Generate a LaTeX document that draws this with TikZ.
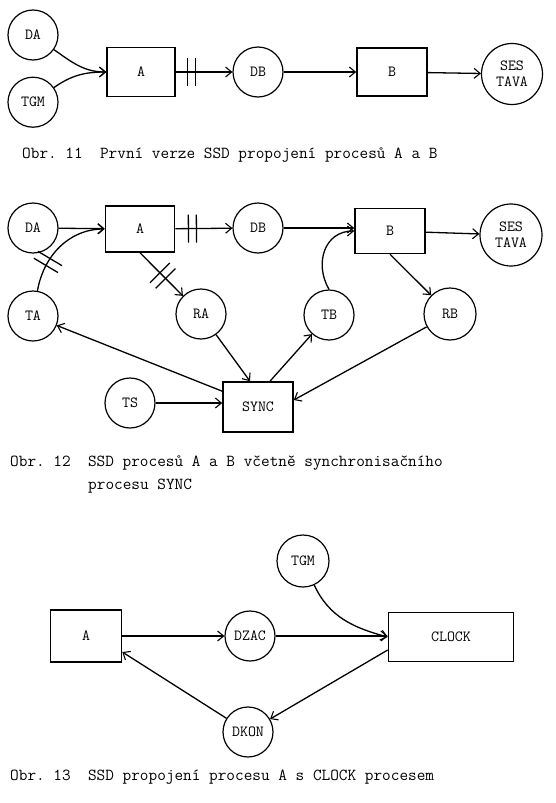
\documentclass[tikz,border=0pt]{standalone}
\usepackage{fontspec}
\usetikzlibrary{arrows.meta,positioning}
\newcommand{\nodefont}{\ttfamily\fontsize{15.5}{16}\selectfont}
\newcommand{\capfont}{\ttfamily\fontsize{16.8}{23}\selectfont}
\tikzset{
 store/.style={circle, draw, line width=1.2pt, minimum size=50pt, inner sep=0pt, font=\nodefont, align=center},
 procbox/.style={draw, line width=1.6pt, minimum width=70pt, minimum height=48pt, inner sep=0pt, font=\nodefont},
 flow/.style={-{Straight Barb[length=6pt,width=10pt,line width=1.1pt]}, line width=1.3pt},
 caption/.style={anchor=base west, inner sep=0pt, font=\capfont},
 cutmark/.pic={\draw[-, line width=1.3pt] (-4pt,-14pt) -- (-4pt,14pt) (4pt,-14pt) -- (4pt,14pt);}
}
\frenchspacing

\begin{document}
\begin{tikzpicture}[x=1pt,y=1pt]
\useasboundingbox (0,0) rectangle (556,-803);
% Obr. 11
\node[store] (da1) at (33,-35) {DA};
\node[store, below=16pt of da1] (tgm1) {TGM};
\node[procbox, minimum width=68pt, minimum height=49pt] (a1) at (141,-72) {A};
\node[store] (db1) at (258,-72) {DB};
\node[procbox] (b1) at (392,-72) {B};
\node[store, minimum size=61pt] (ses1) at (512,-74) {SES\\TAVA};
\draw[flow] (da1) to[out=-35,in=180] (a1.west);
\draw[flow] (tgm1) to[out=35,in=180] (a1.west);
\draw[flow] (a1) -- pic[pos=0.28, sloped]{cutmark} (db1);
\draw[flow] (db1) -- (b1);
\draw[flow] (b1) -- (ses1);
\node[caption] (cap1) at (22,-158) {Obr.~11~~První verze SSD propojení procesů A a B};

% Obr. 12
\node[store] (da2) at (33,-228) {DA};
\node[procbox, minimum width=69pt, minimum height=46pt] (a2) at (140,-229) {A};
\node[store] (db2) at (258,-228) {DB};
\node[procbox, minimum height=45pt] (b2) at (390,-231) {B};
\node[store, minimum size=62pt] (ses2) at (511,-235) {SES\\TAVA};
\node[store] (ta2) at (33,-316) {TA};
\node[store] (ra2) at (201,-314) {RA};
\node[store] (tb2) at (329,-315) {TB};
\node[store, minimum size=52pt] (rb2) at (450,-314) {RB};
\node[store] (ts2) at (130,-403) {TS};
\node[procbox, minimum height=50pt] (sync2) at (258,-407) {SYNC};
\draw[flow] (da2) -- (a2);
\draw[flow] (a2) -- pic[pos=0.3, sloped]{cutmark} (db2);
\draw[flow] (ta2) to[out=80,in=180] pic[pos=0.3, sloped]{cutmark} (a2.west);
\draw[flow] (a2.south) -- pic[pos=0.53, sloped]{cutmark} (ra2);
\draw[flow] (db2) -- (db2 -| b2.west);
\draw[flow] (tb2.north) to[out=120,in=180,looseness=1.2] (b2.west);
\draw[flow] (b2) -- (ses2);
\draw[flow] (b2.south) -- (rb2);
\draw[flow] (ra2) -- ([xshift=-8pt]sync2.north);
\draw[flow] ([xshift=12pt]sync2.north) -- (tb2);
\draw[flow] ([yshift=-10pt]sync2.north west) -- (ta2);
\draw[flow] (ts2) -- (ts2 -| sync2.west);
\draw[flow] (rb2) -- ([yshift=7pt]sync2.east);
\node[caption] (cap2) at (10,-466) {Obr.~12~~SSD procesů A a B včetně synchronisačního};
\node[caption] (cap2b) at (88,-489) {procesu SYNC};

% Obr. 13
\node[procbox, minimum width=71pt, minimum height=52pt] (a3) at (86,-636) {A};
\node[store] (dzac3) at (250,-636) {DZAC};
\node[store, minimum size=52pt] (tgm3) at (303,-561) {TGM};
\node[procbox, minimum width=125pt, minimum height=49pt] (clock3) at (451,-637) {CLOCK};
\node[store] (dkon3) at (248,-732) {DKON};
\draw[flow] (a3) -- (dzac3);
\draw[flow] (dzac3) -- (dzac3 -| clock3.west);
\draw[flow] (tgm3) to[out=-65,in=165] (clock3.west);
\draw[flow] ([yshift=-13pt]clock3.west) -- (dkon3);
\draw[flow] (dkon3) -- ([yshift=-16pt]a3.east);
\node[caption] (cap3) at (10,-780) {Obr.~13~~SSD propojení procesu A s CLOCK procesem};
\end{tikzpicture}
\end{document}
